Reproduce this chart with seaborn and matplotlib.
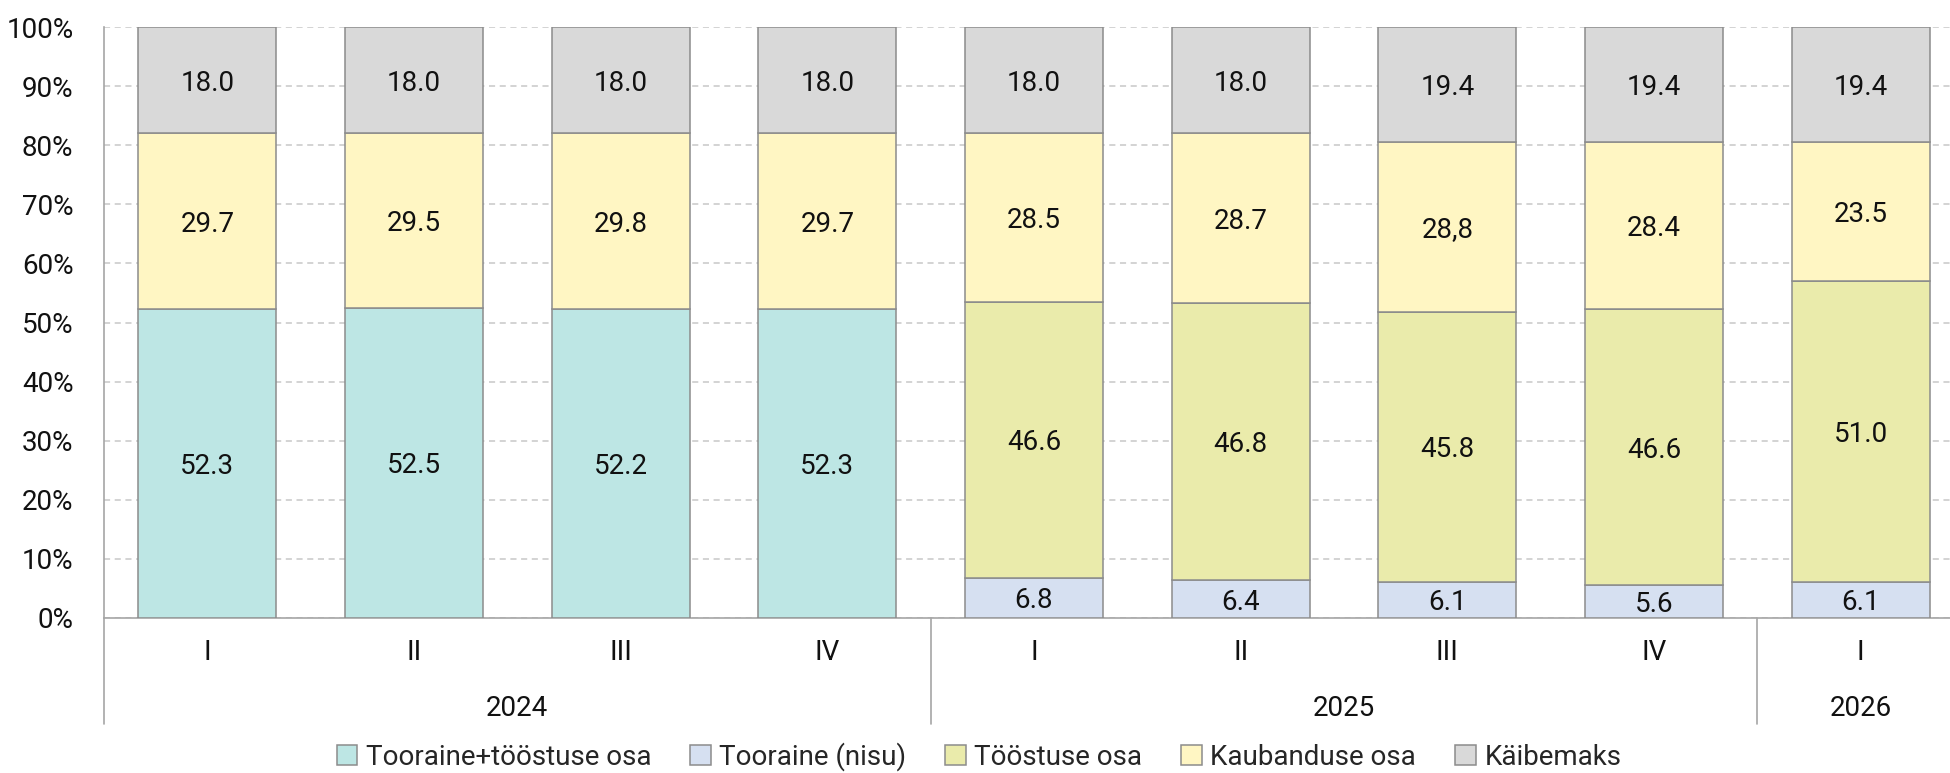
import numpy as np
import pandas as pd
import matplotlib
matplotlib.use("Agg")
import matplotlib.pyplot as plt
import seaborn as sns
from matplotlib.patches import Patch
from matplotlib.transforms import blended_transform_factory

# ---------------- data ----------------
quarters = ["I", "II", "III", "IV", "I", "II", "III", "IV", "I"]
years = ["2024", "2024", "2024", "2024", "2025", "2025", "2025", "2025", "2026"]
year_labels = ["2024", "2025", "2026"]

tooraine_toostus = [52.3, 52.5, 52.2, 52.3, 0, 0, 0, 0, 0]
tooraine_nisu = [0, 0, 0, 0, 6.8, 6.4, 6.1, 5.6, 6.1]
toostus = [0, 0, 0, 0, 46.6, 46.8, 45.8, 46.6, 51.0]
kaubandus = [29.7, 29.5, 29.8, 29.7, 28.5, 28.7, 28.8, 28.4, 23.5]
kaubandus_labels = ["29.7", "29.5", "29.8", "29.7", "28.5", "28.7", "28,8", "28.4", "23.5"]
kaibemaks = [18.0, 18.0, 18.0, 18.0, 18.0, 18.0, 19.4, 19.4, 19.4]

series_names = ["Tooraine (nisu)", "Tööstuse osa", "Tooraine+tööstuse osa",
                "Kaubanduse osa", "Käibemaks"]
legend_order = ["Tooraine+tööstuse osa", "Tooraine (nisu)", "Tööstuse osa",
                "Kaubanduse osa", "Käibemaks"]
colors = {
    "Tooraine+tööstuse osa": "#BDE6E4",
    "Tooraine (nisu)": "#D6E0F1",
    "Tööstuse osa": "#EAEBAB",
    "Kaubanduse osa": "#FFF6C3",
    "Käibemaks": "#D9D9D9",
}
EDGE = "#8C8C8C"
AXC = "#A6A6A6"
TXT = "#111111"

# ---------------- style ----------------
sns.set_theme(style="white")
plt.rcParams["font.family"] = ["Roboto", "DejaVu Sans"]

fig = plt.figure(figsize=(19.5, 7.73), dpi=100)
ax = fig.add_axes([104 / 1950, 155 / 773, 1860 / 1950, 591 / 773])

keys = [f"{y} {q}" for y, q in zip(years, quarters)]
raw = np.array([tooraine_nisu, toostus, tooraine_toostus, kaubandus, kaibemaks], dtype=float)
totals = raw.sum(axis=0)
norm = raw / totals * 100.0

label_sets = [
    [f"{v:.1f}" if v > 0 else "" for v in tooraine_nisu],
    [f"{v:.1f}" if v > 0 else "" for v in toostus],
    [f"{v:.1f}" if v > 0 else "" for v in tooraine_toostus],
    kaubandus_labels,
    [f"{v:.1f}" for v in kaibemaks],
]

bottom = np.zeros(len(keys))
for name, vals, labs in zip(series_names, norm, label_sets):
    df = pd.DataFrame({"pos": keys, "val": vals})
    sns.barplot(data=df, x="pos", y="val", order=keys, bottom=bottom.copy(),
                color=colors[name], saturation=1, edgecolor=EDGE, linewidth=1.1,
                width=0.667, errorbar=None, ax=ax, zorder=3)
    for i, (lab, b, v) in enumerate(zip(labs, bottom, vals)):
        if lab:
            ax.text(i, b + v / 2, lab, ha="center", va="center_baseline",
                    fontsize=20, color=TXT, zorder=5)
    bottom = bottom + vals

# ---------------- axes ----------------
ax.set_xlim(-0.5, 8.5)
ax.set_ylim(0, 100)
ax.set_yticks(np.arange(0, 101, 10))
ax.set_yticklabels([f"{t}%" for t in range(0, 101, 10)], fontsize=20, color=TXT)
ax.yaxis.grid(True, linestyle=(0, (4, 3)), color="#C8C8C8", linewidth=1.1, zorder=0)
ax.xaxis.grid(False)
ax.set_axisbelow(True)
ax.tick_params(axis="y", length=0, pad=22)
ax.set_xticks([])
ax.set_xlabel("")
ax.set_ylabel("")
for s in ["top", "right"]:
    ax.spines[s].set_visible(False)
for s in ["left", "bottom"]:
    ax.spines[s].set_color(AXC)
    ax.spines[s].set_linewidth(1.2)

trans = blended_transform_factory(ax.transData, ax.transAxes)
h_ax = 591.0
for i, q in enumerate(quarters):
    ax.text(i, -34 / h_ax, q, transform=trans, ha="center", va="center",
            fontsize=20, color=TXT)
year_pos = {}
for i, y in enumerate(years):
    year_pos.setdefault(y, []).append(i)
for y in year_labels:
    xs = year_pos[y]
    ax.text(np.mean(xs), -90 / h_ax, y, transform=trans, ha="center", va="center",
            fontsize=20, color=TXT)
# group separators
seps = [-0.5] + [year_pos[y][-1] + 0.5 for y in year_labels[:-1]]
for x in seps:
    ax.plot([x, x], [0, -106 / h_ax], transform=trans, color=AXC, lw=1.2, clip_on=False)

handles = [Patch(facecolor=colors[n], edgecolor=EDGE, linewidth=1.1) for n in legend_order]
fig.legend(handles, legend_order, loc="center", bbox_to_anchor=(0.502, 1 - 757 / 773),
           ncol=5, frameon=False, handlelength=0.75, handleheight=0.75,
           handletextpad=0.3, columnspacing=1.4, fontsize=20)

fig.savefig("out.png", dpi=100)
